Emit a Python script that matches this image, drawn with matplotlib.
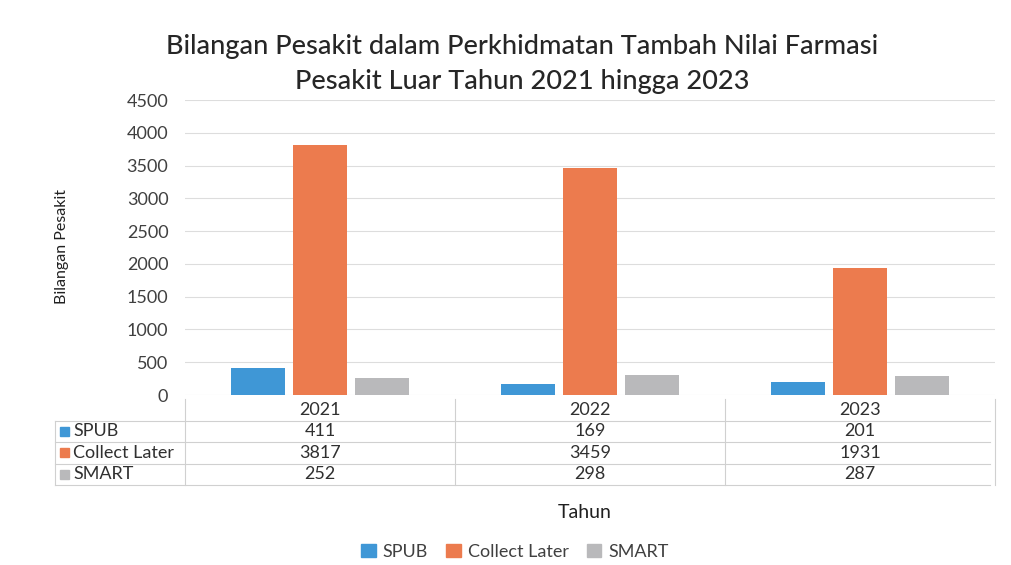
import matplotlib
matplotlib.use("Agg")
import matplotlib.pyplot as plt
import matplotlib.transforms as mtransforms
from matplotlib.lines import Line2D
from matplotlib.patches import Rectangle
import numpy as np

years = ["2021", "2022", "2023"]
series_names = ["SPUB", "Collect Later", "SMART"]
spub = [411, 169, 201]
collect_later = [3817, 3459, 1931]
smart = [252, 298, 287]
colors = ["#3F97D6", "#EC7B4E", "#B9B9BB"]

title = "Bilangan Pesakit dalam Perkhidmatan Tambah Nilai Farmasi\nPesakit Luar Tahun 2021 hingga 2023"

plt.rcParams['font.family'] = ['Lato', 'DejaVu Sans']
W, H = 1011, 565
fig = plt.figure(figsize=(W / 100, H / 100), dpi=100)
fig.patch.set_facecolor("white")

def fx(px):
    return px / W

def fy(py):
    return 1 - py / H

ax = fig.add_axes([fx(185), fy(395), fx(995) - fx(185), fy(100) - fy(395)])
x = np.arange(len(years))
values = [spub, collect_later, smart]
bw = 0.2
offs = [-0.23, 0.0, 0.23]
for vals, off, c, name in zip(values, offs, colors, series_names):
    ax.bar(x + off, vals, bw, color=c, label=name, zorder=3)

ax.set_xlim(-0.5, len(years) - 0.5)
ax.set_ylim(0, 4500)
ax.set_yticks(np.arange(0, 4501, 500))
ax.yaxis.grid(True, color="#DDDDDD", linewidth=0.8, zorder=0)
ax.set_xticks([])
for s in ax.spines.values():
    s.set_visible(False)
ax.tick_params(axis="y", length=0, labelsize=13, colors="#404040", pad=12)

fig.text(fx(522), fy(64), title, ha="center", va="center", fontsize=19.5,
         color="#262626", linespacing=1.5, fontweight="medium")

fig.text(fx(62), fy(247), "Bilangan Pesakit", rotation=90, ha="center", va="center",
         fontsize=11.5, color="#202020", family=['Liberation Sans Narrow', 'Lato', 'DejaVu Sans'])

# data table
trans = mtransforms.blended_transform_factory(ax.transData, fig.transFigure)
row_h = 21.5
top = 399
line_col = "#D0D0D0"
for i in range(1, 5):
    yy = fy(top + i * row_h)
    fig.add_artist(Line2D([fx(55), fx(990)], [yy, yy], color=line_col, linewidth=0.8))
for xv in [-0.5, 0.5, 1.5, 2.5]:
    fig.add_artist(Line2D([xv, xv], [fy(top), fy(top + 4 * row_h)], color=line_col,
                          linewidth=0.8, transform=trans))
fig.add_artist(Line2D([fx(55), fx(55)], [fy(top + row_h), fy(top + 4 * row_h)],
                      color=line_col, linewidth=0.8))

fs_tab = 13
for j, yr in enumerate(years):
    ax.text(j, fy(top + row_h / 2), yr, transform=trans, ha="center", va="center",
            fontsize=fs_tab, color="#303030")
for i, (name, vals, c) in enumerate(zip(series_names, values, colors)):
    yc = fy(top + row_h * (i + 1) + row_h / 2)
    fig.patches.append(Rectangle((fx(60), yc - 4.5 / H), 9 / W, 9 / H, color=c,
                                 transform=fig.transFigure, figure=fig))
    fig.text(fx(73), yc, name, ha="left", va="center", fontsize=fs_tab, color="#303030")
    for j, v in enumerate(vals):
        ax.text(j, yc, str(v), transform=trans, ha="center", va="center",
                fontsize=fs_tab, color="#303030")

fig.text(fx(585), fy(512), "Tahun", ha="center", va="center", fontsize=14, color="#202020")

handles = [Rectangle((0, 0), 1, 1, color=c) for c in colors]
fig.legend(handles, series_names, loc="center", bbox_to_anchor=(fx(515), fy(552)),
           ncol=3, frameon=False, fontsize=13, handlelength=0.8, handleheight=0.7,
           columnspacing=1.0, handletextpad=0.4, labelcolor="#404040")

fig.savefig("out.png", dpi=100, facecolor="white")
